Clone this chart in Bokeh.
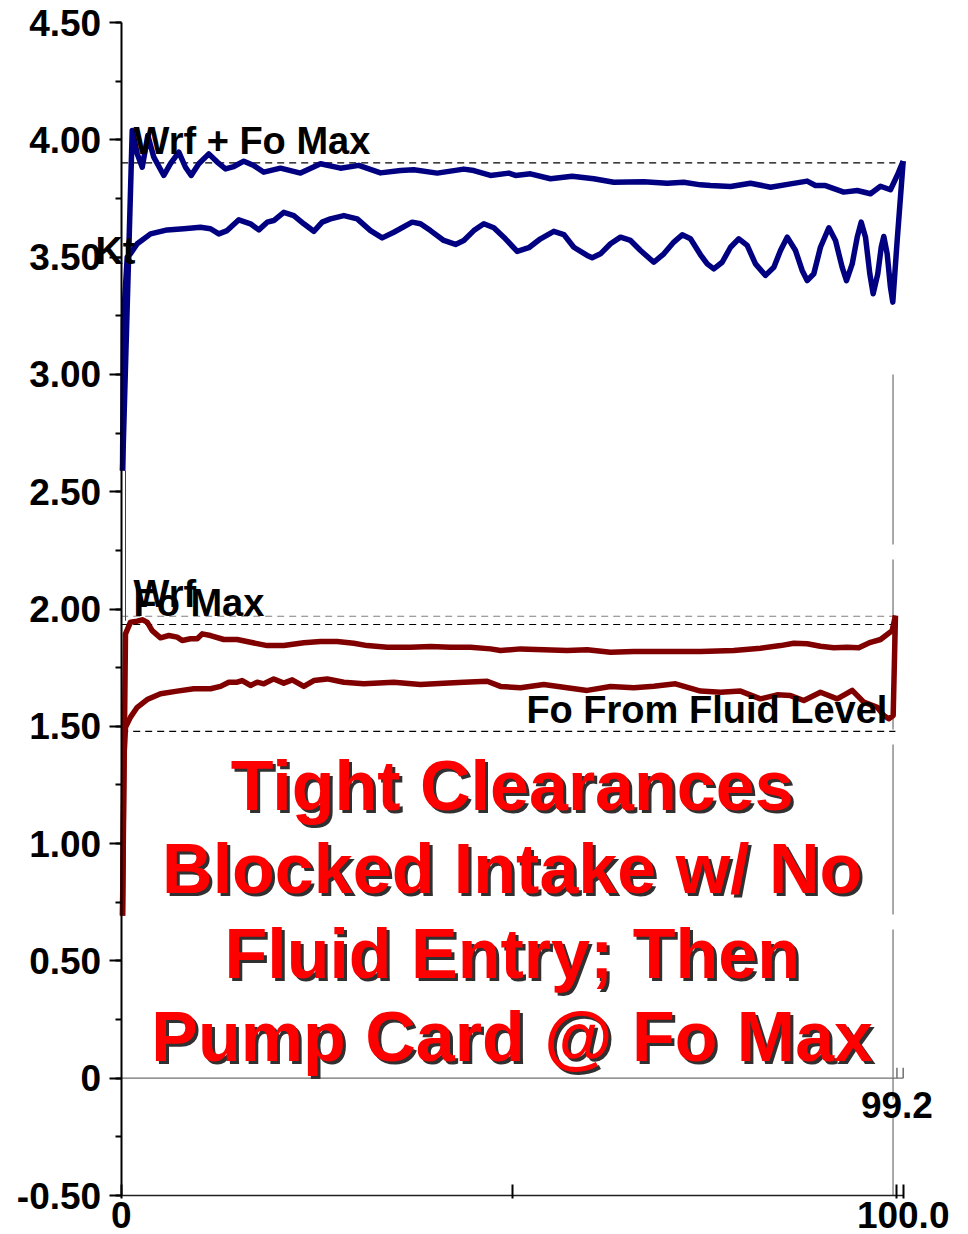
from bokeh.plotting import figure
from bokeh.models import Range1d, Label, FixedTicker, SingleIntervalTicker, PrintfTickFormatter
from bokeh.embed import file_html
from bokeh.resources import INLINE

# ---------------- data ----------------
blue_upper_x = [0.17, 1.41, 2.05, 2.69, 3.40, 4.17, 5.45, 6.30, 7.37, 8.22, 8.95, 9.92, 11.20, 12.28,
                13.34, 14.40, 15.68, 16.96, 18.24, 20.37, 22.93, 25.49, 28.04, 30.38, 33.16, 35.72,
                37.42, 40.41, 43.81, 45.09, 47.22, 49.56, 50.42, 52.34, 54.90, 57.67, 60.43, 62.99,
                66.83, 69.82, 71.94, 74.08, 75.36, 77.92, 80.47, 83.03, 85.59, 87.72, 88.78, 90.06,
                92.40, 94.12, 95.82, 97.10, 98.37, 99.23, 100.0]
blue_upper_y = [2.59, 4.04, 3.940, 3.883, 4.018, 3.926, 3.848, 3.898, 3.947, 3.883, 3.848, 3.898, 3.940,
                3.905, 3.876, 3.886, 3.909, 3.890, 3.862, 3.879, 3.858, 3.898, 3.879, 3.891, 3.859,
                3.869, 3.872, 3.858, 3.875, 3.869, 3.848, 3.858, 3.848, 3.855, 3.834, 3.845, 3.834,
                3.819, 3.821, 3.815, 3.819, 3.808, 3.805, 3.801, 3.815, 3.798, 3.812, 3.824, 3.805,
                3.805, 3.777, 3.784, 3.770, 3.802, 3.787, 3.848, 3.909]

blue_lower_x = [0.17, 0.29, 0.77, 1.19, 2.05, 3.75, 5.88, 8.00, 10.14, 11.42, 12.48, 13.55, 15.04,
                16.53, 17.60, 18.67, 19.51, 20.79, 22.07, 23.35, 24.63, 25.70, 26.76, 28.47, 30.18,
                31.88, 33.38, 34.86, 37.21, 38.27, 39.55, 41.25, 42.75, 43.81, 45.09, 46.37, 47.65,
                48.93, 50.64, 52.12, 53.62, 55.32, 56.60, 57.88, 59.59, 60.23, 61.29, 62.57, 63.85,
                65.13, 66.41, 68.11, 69.39, 70.67, 71.74, 72.80, 74.08, 74.94, 75.78, 76.85, 77.92,
                78.98, 80.05, 81.11, 82.39, 83.46, 84.31, 85.17, 86.23, 87.08, 87.72, 88.57, 89.42,
                90.49, 91.34, 92.19, 92.75, 93.48, 94.12, 94.63, 95.18, 95.73, 96.16, 96.75, 97.19,
                97.52, 97.95, 98.37, 98.67, 99.23, 100.0]
blue_lower_y = [2.59, 3.23, 3.50, 3.515, 3.557, 3.599, 3.616, 3.621, 3.627, 3.621, 3.599, 3.613, 3.659,
                3.642, 3.616, 3.649, 3.656, 3.691, 3.677, 3.642, 3.610, 3.649, 3.663, 3.677, 3.663,
                3.613, 3.582, 3.606, 3.649, 3.642, 3.613, 3.571, 3.554, 3.571, 3.613, 3.642, 3.625,
                3.585, 3.524, 3.540, 3.578, 3.610, 3.596, 3.542, 3.507, 3.497, 3.514, 3.557, 3.585,
                3.571, 3.528, 3.478, 3.514, 3.564, 3.595, 3.578, 3.510, 3.471, 3.450, 3.478, 3.542,
                3.578, 3.550, 3.471, 3.422, 3.457, 3.528, 3.585, 3.528, 3.443, 3.400, 3.429, 3.542,
                3.625, 3.571, 3.457, 3.400, 3.471, 3.585, 3.649, 3.585, 3.429, 3.344, 3.429, 3.542,
                3.588, 3.514, 3.372, 3.308, 3.571, 3.909]

red_upper_x = [0.17, 0.55, 1.19, 2.05, 2.69, 3.32, 3.96, 5.03, 6.09, 7.16, 7.80, 8.86, 9.72, 10.36,
               11.42, 13.12, 14.83, 16.53, 18.67, 20.79, 23.35, 25.49, 27.62, 29.74, 31.46, 34.02,
               36.99, 39.55, 42.11, 44.67, 47.22, 48.50, 51.06, 54.04, 57.03, 59.59, 62.57, 65.55,
               69.82, 74.08, 78.34, 81.75, 84.31, 86.01, 87.72, 89.42, 91.13, 92.84, 94.32, 95.82,
               97.10, 98.59, 99.01]
red_upper_y = [0.693, 1.894, 1.944, 1.948, 1.954, 1.944, 1.908, 1.877, 1.887, 1.880, 1.866, 1.873,
               1.873, 1.894, 1.887, 1.870, 1.870, 1.858, 1.844, 1.844, 1.856, 1.861, 1.861, 1.854,
               1.844, 1.837, 1.837, 1.840, 1.837, 1.837, 1.830, 1.823, 1.830, 1.826, 1.823, 1.826,
               1.816, 1.819, 1.819, 1.819, 1.823, 1.833, 1.844, 1.854, 1.852, 1.841, 1.835, 1.837,
               1.835, 1.858, 1.870, 1.908, 1.972]

red_lower_x = [0.17, 0.33, 0.55, 1.19, 2.05, 3.32, 5.03, 7.16, 9.28, 11.42, 12.70, 13.76, 14.83,
               15.47, 16.53, 17.39, 18.24, 19.51, 20.79, 21.87, 23.35, 24.63, 26.34, 28.47, 31.02,
               34.86, 38.27, 41.25, 43.81, 46.80, 48.50, 51.06, 54.04, 57.03, 59.59, 62.57, 65.55,
               68.11, 70.88, 74.08, 76.64, 79.19, 81.75, 83.89, 85.59, 87.29, 89.42, 91.56, 93.48,
               94.96, 96.68, 97.52, 98.16, 98.72, 99.01]
red_lower_y = [0.693, 1.354, 1.496, 1.539, 1.581, 1.614, 1.639, 1.650, 1.660, 1.660, 1.670, 1.688,
               1.688, 1.695, 1.674, 1.688, 1.681, 1.702, 1.684, 1.698, 1.670, 1.695, 1.702, 1.688,
               1.681, 1.688, 1.678, 1.684, 1.688, 1.692, 1.670, 1.664, 1.678, 1.664, 1.653, 1.670,
               1.664, 1.671, 1.681, 1.650, 1.645, 1.650, 1.617, 1.634, 1.631, 1.610, 1.645, 1.617,
               1.653, 1.603, 1.581, 1.546, 1.532, 1.546, 1.972]

ref_names = ["Wrf + Fo Max", "Wrf", "Fo Max", "Fo From Fluid Level"]
ref_values = [3.902, 1.969, 1.934, 1.478]
ref_label_y = [3.995, 2.065, 2.027, 1.569]
ref_label_x = [1.57, 1.57, 1.57, 97.98]
ref_label_align = ["left", "left", "left", "right"]
ref_colors = ["black", "#808080", "black", "black"]
ref_end_x = 99.0

marker_x = 98.7
marker_label = "99.2"
marker_label_x = 99.2
marker_label_y = -0.113
marker_top = 3.0

start_link_x = 0.55
start_link_y = [2.59, 1.95]

kt_label = "Kt"
kt_x, kt_y = -3.3, 3.527

x_lo, x_hi = 0, 100
y_lo, y_hi = -0.5, 4.5
x_tick_values = [0, 50, 99.2, 100]
x_tick_labels = {0: "0", 50: "", 99.2: "", 100: "100.0"}
zero_line_ticks = [99.2, 100]
zero_tick_height = 0.045

note_lines = ["Tight Clearances", "Blocked Intake w/ No", "Fluid Entry; Then", "Pump Card @ Fo Max"]
note_baselines = [1.245, 0.890, 0.528, 0.174]
note_x = 50

FONT = "Liberation Sans"

# ---------------- figure ----------------
W, H = 960, 1234
PX0, PXS = 120.7, 7.82      # pixel of x=0, pixels per x unit
PY0, PYS = 1077.7, 234.6    # pixel of y=0, pixels per y unit
p = figure(width=W, height=H,
           x_range=Range1d(-PX0 / PXS, (W - PX0) / PXS),
           y_range=Range1d((PY0 - H) / PYS, PY0 / PYS),
           output_backend="svg", toolbar_location=None, min_border=0)
p.grid.visible = False
p.outline_line_color = None
p.background_fill_color = "white"
p.border_fill_color = "white"

# y axis, pinned at x = 0
ya = p.yaxis[0]
ya.fixed_location = x_lo
ya.bounds = (y_lo, y_hi)
ya.ticker = SingleIntervalTicker(interval=0.5, num_minor_ticks=2)
ya.formatter = PrintfTickFormatter(format="%.2f")
ya.major_label_overrides = {0: "0"}
ya.major_label_text_font = FONT
ya.major_label_text_font_style = "bold"
ya.major_label_text_font_size = "37px"
ya.major_label_text_color = "black"
ya.major_label_standoff = 8
ya.major_tick_out = 12
ya.major_tick_in = 0
ya.minor_tick_out = 6
ya.minor_tick_in = 0
ya.axis_line_width = 2
ya.major_tick_line_width = 2
ya.minor_tick_line_width = 2
ya.axis_line_color = "black"

# x axis, pinned at y = -0.5
xa = p.xaxis[0]
xa.fixed_location = y_lo
xa.bounds = (x_lo, x_hi)
xa.ticker = FixedTicker(ticks=x_tick_values)
xa.major_label_overrides = x_tick_labels
xa.major_label_text_font = FONT
xa.major_label_text_font_style = "bold"
xa.major_label_text_font_size = "37px"
xa.major_label_text_color = "black"
xa.major_label_standoff = 3
xa.major_tick_in = 11
xa.major_tick_out = 3
xa.minor_tick_in = 0
xa.minor_tick_out = 0
xa.axis_line_width = 1.5
xa.major_tick_line_width = 2
xa.axis_line_color = "#202020"

# zero line with its small end ticks
p.segment(x0=[x_lo], y0=[0], x1=[x_hi], y1=[0], line_color="#707070", line_width=1.2)
p.segment(x0=zero_line_ticks, y0=[0] * len(zero_line_ticks), x1=zero_line_ticks,
          y1=[zero_tick_height] * len(zero_line_ticks), line_color="#707070", line_width=1.5)

# reference dashed lines
for v, c in zip(ref_values, ref_colors):
    p.segment(x0=[x_lo], y0=[v], x1=[ref_end_x], y1=[v], line_color=c, line_width=1.2, line_dash="7 5")

# vertical marker line
p.segment(x0=[marker_x], y0=[marker_top], x1=[marker_x], y1=[y_lo], line_color="#707070",
          line_width=1.2, line_dash="170 15")
p.segment(x0=[start_link_x], y0=[start_link_y[0]], x1=[start_link_x], y1=[start_link_y[1]],
          line_color="#404040", line_width=1)

# curves
LW = 5.5
p.line(blue_upper_x, blue_upper_y, line_color="#000080", line_width=LW, line_join="round")
p.line(blue_lower_x, blue_lower_y, line_color="#000080", line_width=LW, line_join="round")
p.line(red_upper_x, red_upper_y, line_color="#800000", line_width=LW, line_join="round")
p.line(red_lower_x, red_lower_y, line_color="#800000", line_width=LW, line_join="round")

def lab(x, y, text, size="38px", align="left", color="black"):
    p.add_layout(Label(x=x, y=y, text=text, text_font=FONT, text_font_style="bold",
                       text_font_size=size, text_align=align, text_baseline="alphabetic",
                       text_color=color))

# reference labels
for name, lx, ly, al in zip(ref_names, ref_label_x, ref_label_y, ref_label_align):
    lab(lx, ly, name, align=al)
lab(kt_x, kt_y, kt_label)

# marker label
lab(marker_label_x, marker_label_y, marker_label, size="37px", align="center")

# big red note with shadow (shadow 3px right, 3px down)
dx, dy = 3 / PXS, 3 / PYS
for line, yb in zip(note_lines, note_baselines):
    lab(note_x + dx, yb - dy, line, size="70px", align="center", color="#303030")
    lab(note_x, yb, line, size="70px", align="center", color="#ff0000")

open("out.html", "w").write(file_html(p, INLINE))
